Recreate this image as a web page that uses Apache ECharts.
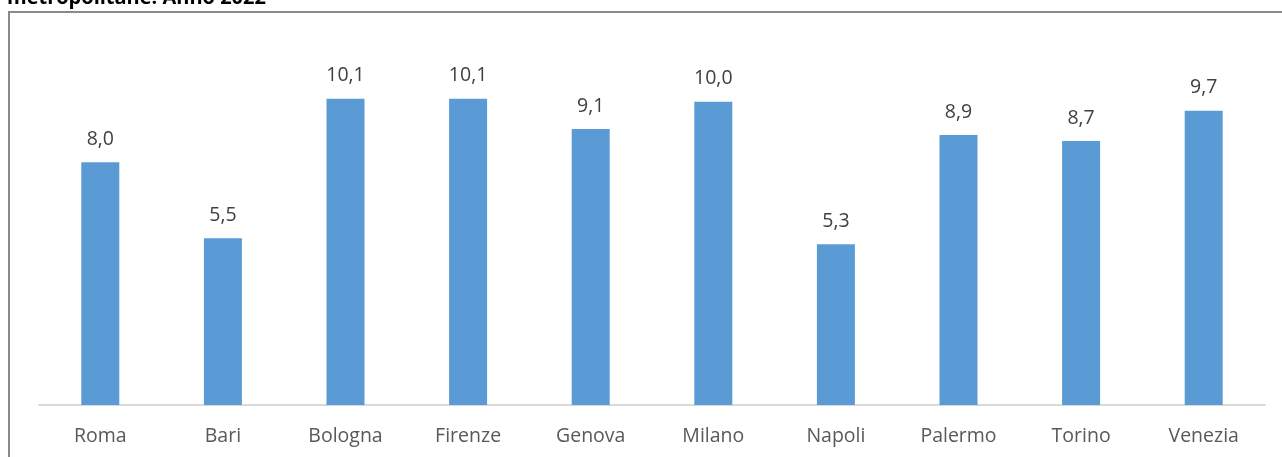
<!DOCTYPE html>
<html>
<head>
<meta charset="utf-8">
<script src="https://cdn.jsdelivr.net/npm/echarts@6/dist/echarts.min.js"></script>
<style>
  html, body { margin: 0; padding: 0; background: #fff; }
  #chart { width: 1282px; height: 457px; }
</style>
</head>
<body>
<div id="chart"></div>
<script>
const cities = ['Roma', 'Bari', 'Bologna', 'Firenze', 'Genova', 'Milano', 'Napoli', 'Palermo', 'Torino', 'Venezia']
const values = [8.0, 5.5, 10.1, 10.1, 9.1, 10.0, 5.3, 8.9, 8.7, 9.7]
const titleText = 'metropolitane. Anno 2022'

var chartDom = document.getElementById('chart')
var myChart = echarts.init(chartDom)
const option = {
  animation: false,
  textStyle: { fontFamily: 'Open Sans' },
  title: {
    text: titleText,
    left: 2,
    top: -17,
    textStyle: { fontSize: 20, fontWeight: 'bold', color: '#000', fontFamily: 'Open Sans' }
  },
  graphic: [{
    type: 'rect',
    shape: { x: 9, y: 12, width: 1290, height: 470 },
    style: { fill: 'none', stroke: '#8a8a8a', lineWidth: 2 },
    z: -1
  }],
  grid: { left: 39, right: 17, top: 41, bottom: 52 },
  xAxis: {
    type: 'category',
    data: cities,
    axisTick: { show: false },
    axisLine: { lineStyle: { color: '#d9d9d9', width: 2 } },
    axisLabel: { color: '#595959', fontSize: 19.5, margin: 21 }
  },
  yAxis: {
    type: 'value',
    min: 0,
    max: 12,
    show: false
  },
  series: [{
    type: 'bar',
    data: values,
    barWidth: 38,
    itemStyle: { color: '#5b9bd5' },
    label: {
      show: true,
      position: 'top',
      distance: 13,
      color: '#404040',
      fontSize: 19.5,
      formatter: p => p.value.toFixed(1).replace('.', ',')
    }
  }]
}
option && myChart.setOption(option)
</script>
</body>
</html>
